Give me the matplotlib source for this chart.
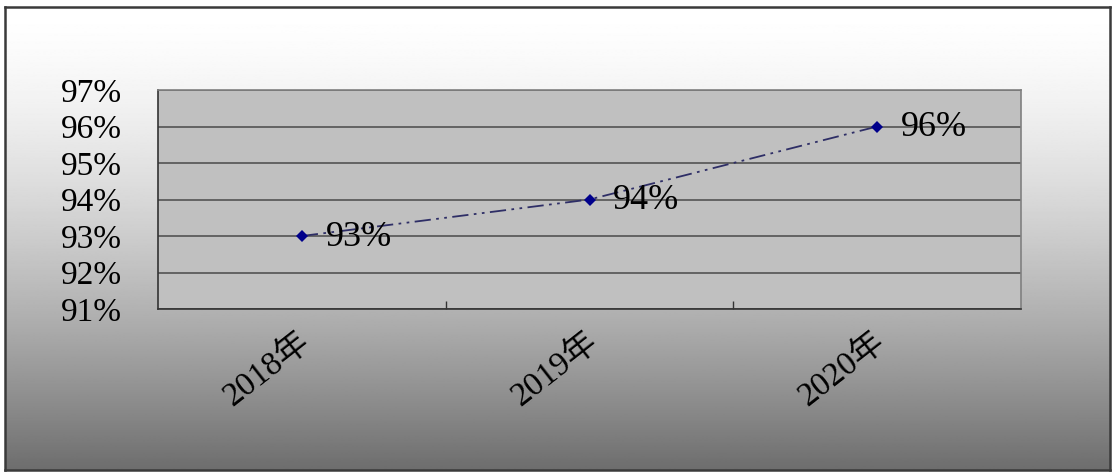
import numpy as np
import matplotlib.pyplot as plt
from matplotlib.ticker import PercentFormatter, FixedLocator
from matplotlib.transforms import ScaledTranslation

# data
years = ['2018年', '2019年', '2020年']
rates = [0.93, 0.94, 0.96]
rate_labels = ['93%', '94%', '96%']
y_ticks = [0.91, 0.92, 0.93, 0.94, 0.95, 0.96, 0.97]

serif = ['Liberation Serif', 'Noto Sans CJK SC']

fig = plt.figure(figsize=(11.18, 4.76), dpi=100)

# grey gradient panel with dark frame
bg = fig.add_axes([5 / 1118, 1 - 470 / 476, 1105 / 1118, 463 / 476], zorder=0)
t = np.linspace(0, 1, 400)[:, None]
shade = 1 - 0.57 * t ** 1.5
bg.imshow(np.repeat(shade, 2, axis=1), cmap='gray', vmin=0, vmax=1,
          aspect='auto', extent=[0, 1, 1, 0])
bg.set_xticks([])
bg.set_yticks([])
for s in bg.spines.values():
    s.set_color('#3a3a3a')
    s.set_linewidth(1.8)

# plot area
ax = fig.add_axes([158 / 1118, 1 - 309 / 476, 863 / 1118, 219 / 476], zorder=1)
ax.set_facecolor('#c0c0c0')
x = np.arange(len(years))
ax.plot(x, rates, color='#2e2e66', linewidth=1.3,
        linestyle=(0, (9, 3, 1.5, 3, 1.5, 3)), zorder=3)
ax.plot(x, rates, linestyle='none', marker='D', markersize=6,
        color='#00008b', markeredgewidth=0, zorder=4)
for xi, yi, lab in zip(x, rates, rate_labels):
    ax.annotate(lab, (xi, yi), xytext=(17, -1), textcoords='offset points',
                ha='left', va='center', fontsize=26, family=serif, zorder=5)

ax.set_xlim(-0.5, len(years) - 0.5)
ax.set_ylim(0.91, 0.97)
ax.set_yticks(y_ticks)
ax.yaxis.set_major_formatter(PercentFormatter(1.0, decimals=0))
ax.tick_params(axis='y', length=0, pad=26, labelsize=24)
for lab in ax.get_yticklabels():
    lab.set_family(serif)
ax.grid(axis='y', color='#4a4a4a', linewidth=1.1)
ax.set_axisbelow(True)

ax.set_xticks(x)
ax.set_xticklabels(years, rotation=38, ha='right', rotation_mode='default',
                   fontsize=24, family=serif)
ax.tick_params(axis='x', which='major', length=0, pad=12)
shift = ScaledTranslation(14 / 100, 0, fig.dpi_scale_trans)
for lab in ax.get_xticklabels():
    lab.set_transform(lab.get_transform() + shift)
ax.xaxis.set_minor_locator(FixedLocator([0.5, 1.5]))
ax.tick_params(axis='x', which='minor', direction='in', length=6,
               color='#333333', width=1)

ax.spines['left'].set_color('#333333')
ax.spines['bottom'].set_color('#333333')
ax.spines['top'].set_color('#808080')
ax.spines['right'].set_color('#808080')
for s in ax.spines.values():
    s.set_linewidth(1.2)

fig.savefig('out.png', dpi=100, facecolor='white')
